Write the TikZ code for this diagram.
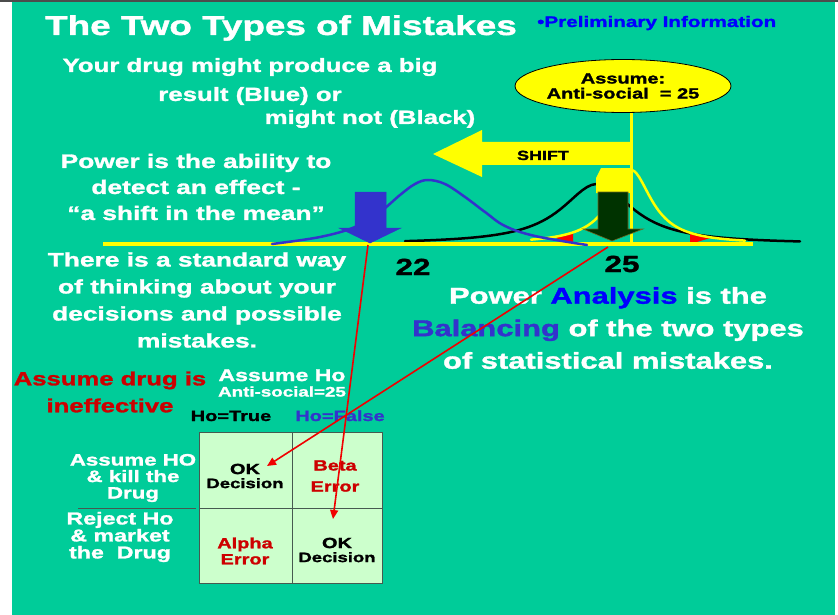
\documentclass[tikz,border=0pt]{standalone}
\usepackage{fontspec}
\setmainfont{Liberation Sans}[FakeStretch=1.35,FakeBold=1.5]
\usetikzlibrary{arrows.meta,shapes.geometric}

\definecolor{slidegreen}{RGB}{0,204,153}
\definecolor{shiftyellow}{RGB}{255,255,0}
\definecolor{curveblue}{RGB}{51,51,204}
\definecolor{wordblue}{RGB}{0,0,255}
\definecolor{mistakered}{RGB}{204,0,0}
\definecolor{linkred}{RGB}{240,0,0}
\definecolor{arrowgreen}{RGB}{0,51,0}
\definecolor{cellgreen}{RGB}{204,255,204}
\definecolor{gridgray}{RGB}{70,90,80}

\newcommand{\fsz}[2]{\fontsize{#1}{#2}\selectfont\bfseries}

\begin{document}
\begin{tikzpicture}[x=1pt,y=-1pt,
    declare function={blackpdf(\x)=244-60/(1+((\x-597)/43)^2);
                      yellowpdf(\x)=244-74/(1+((\x-631)/25)^2);},
    whitetxt/.style={text=white,align=center,inner sep=0pt},
    curve/.style={line width=2.5pt,line cap=round},
    redlink/.style={draw=linkred,line width=1.6pt,-{Triangle[length=9pt,width=8pt]}}]
    \useasboundingbox (0,0) rectangle (838,615);

    % Slide background
    \fill[white] (0,0) rectangle (838,615);
    \fill[slidegreen] (12,2) rectangle (835,615);
    \fill[black!70] (0,0) rectangle (838,2);

    % Distributions around the mean
    \draw[curve,black] plot[domain=405:800,samples=90] (\x,{blackpdf(\x)});
    \fill[red] plot[domain=553:573,samples=10] (\x,{yellowpdf(\x)}) -- (573,244) -- cycle;
    \fill[red] (690,244) -- plot[domain=690:712,samples=10] (\x,{yellowpdf(\x)}) -- cycle;
    \draw[curve,shiftyellow] plot[domain=531:745,samples=90] (\x,{yellowpdf(\x)});

    % Axis and the assumed mean
    \coordinate (axisL) at (103,244);
    \coordinate (axisR) at (753,244);
    \draw[shiftyellow,line width=3pt] (631,100) -- (631,244);
    \draw[shiftyellow,line width=4pt] (axisL) -- (axisR);
    \draw[curve,curveblue] plot[smooth,tension=0.6] coordinates {(272,244) (320,237) (355,227)
        (380,212) (400,195) (415,184) (428,180) (445,184) (465,197) (485,212) (505,226)
        (535,236) (587,245)};

    % SHIFT arrow
    \fill[shiftyellow] (632,142) -- (482,142) -- (482,130) -- (433,154) -- (482,177)
        -- (482,165) -- (632,165) -- cycle;
    \fill[shiftyellow] (596,193) -- (596,178) -- (601,168) -- (632,168) -- (632,193) -- cycle;
    \node[anchor=base,inner sep=0pt,font=\fsz{13.3}{14}] (shiftlbl) at (543,160) {SHIFT};

    % Assumption bubble
    \node[ellipse,draw=black,line width=0.8pt,fill=shiftyellow,minimum width=201,
        minimum height=53,inner sep=0pt,align=center,font=\fsz{14.8}{15}] (assume)
        at (623,86) {Assume:\\Anti-social~ = 25};

    % Mean markers
    \filldraw[curveblue,line width=0.5pt] (355,192) -- (386,192) -- (386,228) -- (401,228)
        -- (370,243) -- (339,228) -- (355,228) -- cycle;
    \filldraw[fill=arrowgreen,draw=olive!70!black,line width=0.6pt] (598,192) -- (628,192)
        -- (628,229) -- (643,229) -- (612,241) -- (583,229) -- (598,229) -- cycle;
    \coordinate (blueTip) at (368,245);
    \coordinate (greenTip) at (608,247);
    \node[anchor=base,inner sep=0pt,font=\fsz{23.3}{24}] (mean22) at (413,275) {22};
    \node[anchor=base,inner sep=0pt,font=\fsz{23.3}{24}] (mean25) at (622,272) {25};

    % Texts
    \node[whitetxt,anchor=base,font=\fsz{27.3}{30}] (title) at (281,35) {The Two Types of Mistakes};
    \node[anchor=base west,inner sep=0pt,text=wordblue,font=\fsz{15.3}{16}] (prelim)
        at (537,27) {\textbullet Preliminary Information};
    \node[whitetxt,font=\fsz{19.1}{29}] (result) at (250,81.5) {Your drug might produce a big\\result (Blue) or};
    \node[whitetxt,font=\fsz{19.1}{27}] (notblack) at (370,119) {might not (Black)};
    \node[whitetxt,font=\fsz{19.5}{26}] (power) at (196,187) {Power is the ability to\\detect an effect -\\“a shift in the mean”};
    \node[whitetxt,font=\fsz{19.5}{27}] (standard) at (197,300) {There is a standard way\\of thinking about your\\decisions and possible\\mistakes.};
    \node[whitetxt,font=\fsz{22.9}{32.5}] (balance) at (608,328) {Power {\color{wordblue}Analysis} is the\\{\color{curveblue}Balancing} of the two types\\of statistical mistakes.};
    \node[align=center,inner sep=0pt,text=mistakered,font=\fsz{19}{27}] (ineffective)
        at (110,392) {Assume drug is\\ineffective};
    \node[whitetxt,font=\fsz{17.1}{15.5}] (assumeHo) at (282,383) {Assume Ho\\{\fsz{13.9}{15.5}Anti-social=25}};
    \node[anchor=base,inner sep=0pt,font=\fsz{14.8}{16}] (hoTrue) at (231,421) {Ho=True};
    \node[anchor=base,inner sep=0pt,text=curveblue,font=\fsz{14.8}{16}] (hoFalse) at (340,421) {Ho=False};

    % Decision table
    \fill[cellgreen] (199,432) rectangle (382,583);
    \draw[gridgray,line width=0.8pt] (199,432) rectangle (382,583) (292,432) -- (292,583)
        (199,508) -- (382,508);
    \node[whitetxt,font=\fsz{16.5}{16.5}] (killDrug) at (133,478) {Assume HO\\\& kill the\\Drug};
    \draw[gridgray,line width=1pt] (78,508) -- (196,508);
    \node[whitetxt,font=\fsz{17.2}{17}] (marketDrug) at (120,537) {Reject Ho\\\& market\\the~ Drug};
    \node[align=center,inner sep=0pt,font=\fsz{14.8}{14}] (cellTL) at (245,476) {OK\\{\fsz{13.7}{14}Decision}};
    \node[align=center,inner sep=0pt,text=mistakered,font=\fsz{14.8}{21}] (cellTR) at (335,476) {Beta\\Error};
    \node[align=center,inner sep=0pt,text=mistakered,font=\fsz{14.8}{16}] (cellBL) at (245,551) {Alpha\\Error};
    \node[align=center,inner sep=0pt,font=\fsz{14.8}{14}] (cellBR) at (337,550) {OK\\{\fsz{13.7}{14}Decision}};

    % Links from the means to the decisions
    \coordinate (hitBR) at (333,519);
    \coordinate (hitTL) at (267,466);
    \draw[redlink] (blueTip) -- (hitBR);
    \draw[redlink] (greenTip) -- (hitTL);
\end{tikzpicture}
\end{document}
